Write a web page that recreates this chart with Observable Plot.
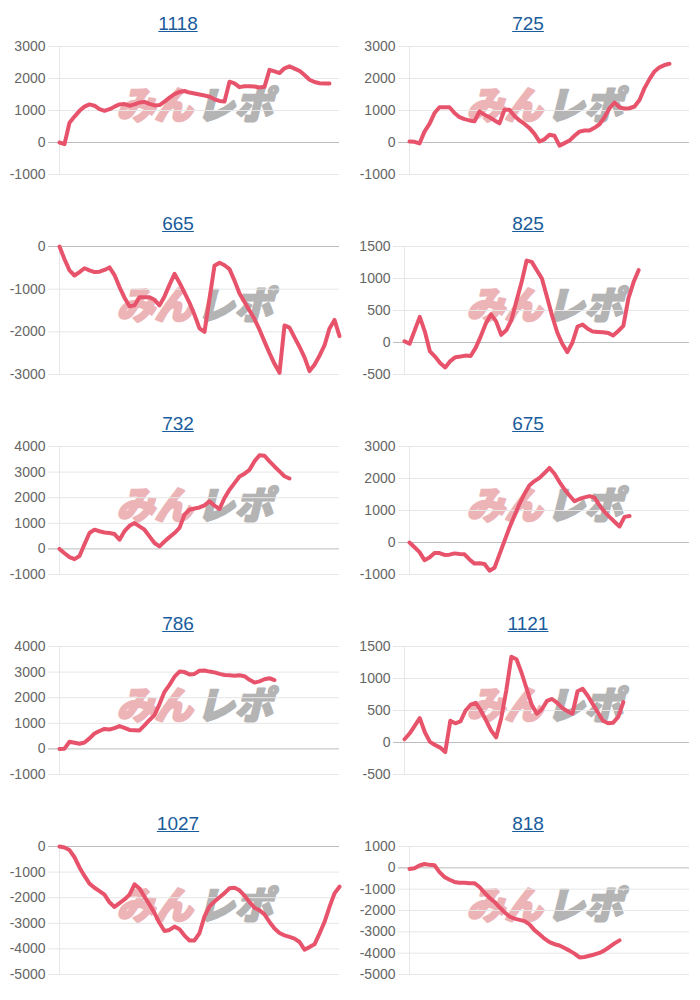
<!DOCTYPE html>
<html><head><meta charset="utf-8">
<script src="https://cdn.jsdelivr.net/npm/d3@7"></script>
<script src="https://cdn.jsdelivr.net/npm/@observablehq/plot@0.6"></script>
<style>
body{margin:0;background:#fff;font-family:"Liberation Sans",Arial,sans-serif;}
#grid{display:grid;grid-template-columns:350px 350px;}
.cell{width:350px;height:200px;overflow:hidden;}
.title{box-sizing:border-box;height:36px;padding-top:14px;padding-left:6px;text-align:center;font-size:19px;line-height:19px;}
.title a{color:#1a5c9c;text-decoration:underline;}
svg{display:block;}
</style></head><body><div id="grid"></div>
<script>
const titles = ["1118","725","665","825","732","675","786","1121","1027","818"];

const s1118 = [0,-50,620,810,990,1120,1190,1150,1040,990,1040,1120,1190,1200,1150,1190,1250,1270,1210,1160,1170,1280,1400,1510,1580,1610,1560,1530,1500,1470,1430,1350,1300,1280,1900,1850,1730,1760,1760,1750,1720,1740,2270,2220,2170,2320,2380,2310,2240,2110,1960,1890,1850,1840,1840];
const s725 = [30,20,-30,340,580,920,1100,1100,1100,920,790,730,690,660,970,865,790,690,600,1020,1020,830,690,580,450,270,30,100,240,210,-100,-20,60,210,340,375,375,460,570,790,1070,1250,1100,1060,1070,1125,1330,1700,1980,2220,2350,2420,2460];
const s665 = [0,-300,-560,-680,-600,-510,-560,-600,-590,-550,-490,-670,-950,-1200,-1400,-1380,-1190,-1190,-1190,-1250,-1380,-1170,-900,-640,-850,-1080,-1320,-1600,-1920,-2000,-1220,-450,-380,-440,-530,-800,-1100,-1300,-1500,-1700,-1950,-2230,-2500,-2750,-2960,-1850,-1900,-2130,-2350,-2600,-2920,-2770,-2560,-2320,-1920,-1720,-2100];
const s825 = [20,-20,190,400,170,-140,-220,-320,-390,-290,-230,-220,-205,-210,-80,100,300,440,330,120,190,350,650,940,1280,1260,1130,1000,710,420,160,-20,-150,0,250,280,215,170,165,160,150,110,180,260,690,940,1130];
const s732 = [0,-170,-320,-400,-280,180,620,750,690,640,620,580,360,690,900,1010,880,750,490,230,100,290,460,620,820,1340,1530,1580,1620,1700,1860,1690,1560,1990,2310,2570,2830,2940,3090,3420,3660,3640,3420,3220,3030,2840,2750];
const s675 = [0,-150,-300,-550,-470,-330,-330,-390,-380,-340,-360,-370,-530,-660,-650,-670,-880,-790,-370,50,470,840,1210,1520,1790,1920,2020,2170,2330,2150,1890,1660,1470,1290,1360,1410,1450,1400,1160,960,800,650,500,800,830];
const s786 = [0,10,280,240,200,250,410,600,700,780,760,810,890,820,740,730,720,920,1130,1320,1750,2230,2500,2820,3020,3000,2910,2930,3050,3060,3020,2990,2930,2890,2880,2860,2880,2840,2700,2590,2640,2720,2760,2690];
const s1121 = [50,140,260,380,160,10,-40,-80,-150,340,300,330,500,590,620,500,350,190,80,380,815,1340,1300,1090,840,590,450,520,650,680,620,540,490,450,800,840,730,600,470,340,300,310,400,630];
const s1027 = [0,-40,-140,-420,-820,-1150,-1450,-1610,-1740,-1880,-2180,-2360,-2210,-2070,-1880,-1480,-1640,-1960,-2270,-2600,-2990,-3300,-3260,-3130,-3230,-3480,-3670,-3670,-3380,-2730,-2340,-2150,-1980,-1820,-1630,-1610,-1710,-1920,-2170,-2390,-2490,-2650,-2950,-3200,-3380,-3470,-3530,-3600,-3730,-4030,-3930,-3820,-3400,-2950,-2360,-1830,-1570];
const s818 = [-50,-20,110,180,140,120,-200,-430,-560,-660,-700,-700,-720,-720,-900,-1170,-1400,-1600,-1850,-2080,-2280,-2380,-2440,-2500,-2650,-2920,-3110,-3320,-3480,-3580,-3640,-3760,-3880,-4020,-4200,-4180,-4120,-4060,-3990,-3870,-3710,-3540,-3400];

const t1118 = [-1000,0,1000,2000,3000];
const t725 = [-1000,0,1000,2000,3000];
const t665 = [-3000,-2000,-1000,0];
const t825 = [-500,0,500,1000,1500];
const t732 = [-1000,0,1000,2000,3000,4000];
const t675 = [-1000,0,1000,2000,3000];
const t786 = [-1000,0,1000,2000,3000,4000];
const t1121 = [-500,0,500,1000,1500];
const t1027 = [-5000,-4000,-3000,-2000,-1000,0];
const t818 = [-5000,-4000,-3000,-2000,-1000,0,1000];

const seriesList = [s1118,s725,s665,s825,s732,s675,s786,s1121,s1027,s818];
const tickList = [t1118,t725,t665,t825,t732,t675,t786,t1121,t1027,t818];
const slots = 56;

function labelWidth(s){let w=0;for(const c of s) w += c==="-"?4.66:7.79;return w;}

const grid = document.getElementById("grid");
titles.forEach((title, k) => {
  const values = seriesList[k];
  const ticks = tickList[k];
  const ml = Math.round(9 + Math.max(...ticks.map(t => labelWidth(String(t)))) + 14);
  const mr = 11;
  const frameCenter = (ml + (350 - mr)) / 2;
  const wx = 195 - frameCenter;
  const cell = document.createElement("div");
  cell.className = "cell";
  const t = document.createElement("div");
  t.className = "title";
  const a = document.createElement("a");
  a.href = "#"; a.textContent = title;
  t.appendChild(a);
  cell.appendChild(t);
  const wm = {frameAnchor: "middle", text: d => d, dy: -4, fontSize: 38, fontWeight: 900, fontStyle: "italic", fontFamily: "Noto Sans CJK JP, sans-serif", strokeWidth: 2.2, strokeLinejoin: "round"};
  const chart = Plot.plot({
    width: 350, height: 164,
    marginTop: 10, marginBottom: 26, marginLeft: ml, marginRight: mr,
    style: {fontFamily: "Liberation Sans, Arial, sans-serif", fontSize: "14px", color: "#666", background: "transparent", overflow: "visible"},
    x: {domain: [0, slots], axis: null},
    y: {domain: [d3.min(ticks), d3.max(ticks)]},
    marks: [
      Plot.text(["みん"], {...wm, textAnchor: "end", dx: wx - 3, fill: "#ecb4b7", stroke: "#ecb4b7"}),
      Plot.text(["レポ"], {...wm, textAnchor: "start", dx: wx + 1, fill: "#b4b4b4", stroke: "#b4b4b4"}),
      Plot.ruleY(ticks.filter(d => d !== 0), {stroke: "#e6e6e6", strokeWidth: 1}),
      Plot.axisY(ticks, {tickSize: 11, tickPadding: 3, stroke: "#e6e6e6", fill: "#666", tickFormat: d => String(d), fontSize: 14}),
      Plot.ruleX([0], {stroke: "#e6e6e6"}),
      Plot.ruleY([0], {stroke: "#bdbdbd", strokeWidth: 1}),
      Plot.axisY([0], {tickSize: 11, tickPadding: 3, stroke: "#bdbdbd", tickFormat: () => ""}),
      Plot.lineY(values, {x: (d, i) => i, y: d => d, stroke: "#e8536c", strokeWidth: 4, strokeLinejoin: "round", strokeLinecap: "round"})
    ]
  });
  cell.appendChild(chart);
  grid.appendChild(cell);
});
</script>
</body></html>
